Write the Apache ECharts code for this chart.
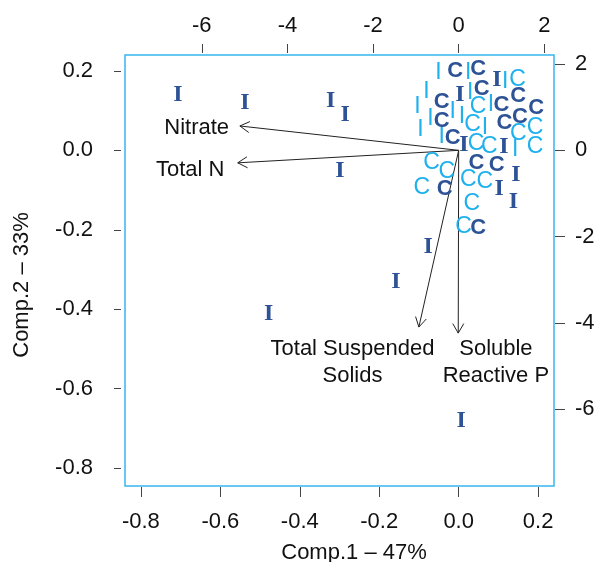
<!DOCTYPE html>
<html>
<head>
<meta charset="utf-8">
<script src="https://cdn.jsdelivr.net/npm/echarts@6/dist/echarts.min.js"></script>
<style>
  html, body { margin: 0; padding: 0; background: #fff; }
  #chart { width: 599px; height: 562px; }
</style>
</head>
<body>
<div id="chart"></div>
<script>
// Scores (Comp.1, Comp.2) by group
const darkI = [
  [-0.707, 0.140], [-0.538, 0.120], [-0.322, 0.125], [-0.286, 0.089], [-0.299, -0.052],
  [-0.077, -0.243], [-0.158, -0.331], [-0.478, -0.412], [0.006, -0.681],
  [0.096, 0.178], [0.003, 0.140], [0.013, 0.014], [0.114, 0.010], [0.144, -0.062],
  [0.102, -0.098], [0.138, -0.129]
];
const darkC = [
  [-0.009, 0.201], [0.049, 0.205], [0.058, 0.154], [0.108, 0.115], [0.150, 0.136],
  [0.195, 0.106], [-0.043, 0.123], [0.115, 0.069], [0.154, 0.085], [-0.043, 0.073],
  [-0.015, 0.031], [0.045, -0.032], [0.096, -0.037], [-0.035, -0.098], [0.049, -0.196]
];
const lightC = [
  [0.148, 0.179], [0.049, 0.110], [0.035, 0.064], [0.150, 0.043], [0.192, 0.058],
  [0.044, 0.016], [0.077, 0.010], [0.192, 0.010], [-0.068, -0.032], [-0.030, -0.053],
  [-0.093, -0.095], [0.024, -0.074], [0.066, -0.079], [0.033, -0.135], [0.012, -0.192]
];
const lightI = [
  [-0.051, 0.195], [0.024, 0.195], [0.117, 0.173], [-0.081, 0.148], [0.029, 0.144],
  [0.081, 0.115], [-0.104, 0.110], [-0.015, 0.098], [0.008, 0.085], [0.066, 0.058],
  [-0.096, 0.052], [-0.071, 0.081], [-0.043, 0.035], [0.142, 0.001]
];

// Loadings (top / right scale)
const loadingNames = ['Nitrate', 'Total N', 'Total Suspended\nSolids', 'Soluble\nReactive P'];
const loadings = [[-5.11, 0.565], [-5.16, -0.29], [-0.93, -4.10], [-0.01, -4.24]];
const loadingLabelPos = [[-6.12, 0.51], [-6.27, -0.46], [-2.48, -4.93], [0.87, -4.93]];

// Ticks
const scoreTicks = [-0.8, -0.6, -0.4, -0.2, 0.0, 0.2];
const loadTicks = [-6, -4, -2, 0, 2];

const darkBlue = '#2D5295';
const lightBlue = '#1FB1EE';
const boxBlue = '#35B7F0';
const sans = 'Liberation Sans, Arial, sans-serif';

const chart = echarts.init(document.getElementById('chart'));

// Serie de letras como marcadores
const letterSeries = (data, letter, color, font, size, weight) => ({
  type: 'custom',
  xAxisIndex: 0,
  yAxisIndex: 0,
  clip: false,
  data: data,
  renderItem: (params, api) => {
    const p = api.coord([api.value(0), api.value(1)]);
    return {
      type: 'text',
      x: p[0], y: p[1],
      style: {
        text: letter, fill: color, fontFamily: font, fontSize: size,
        fontWeight: weight, align: 'center', verticalAlign: 'middle'
      }
    };
  }
});

const tickStyle = { color: '#444', width: 1 };

const option = {
  backgroundColor: '#fff',
  animation: false,
  grid: {
    left: 125, right: 45, top: 55, bottom: 76,
    containLabel: false, outerBoundsMode: 'none',
    show: true, borderColor: boxBlue, borderWidth: 1.5, backgroundColor: 'transparent'
  },
  xAxis: [
    {
      type: 'value', position: 'bottom', min: -0.84, max: 0.24, offset: 1,
      axisLine: { show: false, onZero: false }, splitLine: { show: false },
      axisTick: { show: true, length: 10, customValues: scoreTicks, lineStyle: tickStyle },
      axisLabel: { customValues: scoreTicks, margin: 24, fontSize: 22, fontFamily: sans, color: '#111',
        formatter: v => v.toFixed(1) },
      name: 'Comp.1 \u2013 47%', nameLocation: 'middle', nameGap: 55,
      nameTextStyle: { fontSize: 22, fontFamily: sans, color: '#111', padding: [0, 0, 0, 29] }
    },
    {
      type: 'value', position: 'top', min: -0.84 * 9.278, max: 0.24 * 9.278, offset: 2,
      axisLine: { show: false, onZero: false }, splitLine: { show: false },
      axisTick: { show: true, length: 9, customValues: loadTicks, lineStyle: tickStyle },
      axisLabel: { customValues: loadTicks, margin: 16, fontSize: 22, fontFamily: sans, color: '#111',
        formatter: v => String(v) }
    }
  ],
  yAxis: [
    {
      type: 'value', position: 'left', min: -0.845, max: 0.24, offset: 4,
      axisLine: { show: false, onZero: false }, splitLine: { show: false },
      axisTick: { show: true, length: 7, customValues: scoreTicks, lineStyle: tickStyle },
      axisLabel: { customValues: scoreTicks, margin: 28, fontSize: 22, fontFamily: sans, color: '#111',
        formatter: v => v.toFixed(1) },
      name: 'Comp.2 \u2013 33%', nameLocation: 'middle', nameGap: 88, nameRotate: 90,
      nameTextStyle: { fontSize: 22, fontFamily: sans, color: '#111', padding: [0, 29, 0, 0] }
    },
    {
      type: 'value', position: 'right', min: -0.845 * 9.215, max: 0.24 * 9.215, offset: 1,
      axisLine: { show: false, onZero: false }, splitLine: { show: false },
      axisTick: { show: true, length: 10, customValues: loadTicks, lineStyle: tickStyle },
      axisLabel: { customValues: loadTicks, margin: 20, fontSize: 22, fontFamily: sans, color: '#111',
        formatter: v => String(v) }
    }
  ],
  series: [
    // Flechas de cargas
    {
      type: 'custom',
      xAxisIndex: 1,
      yAxisIndex: 1,
      clip: false,
      data: loadings,
      renderItem: (params, api) => {
        const o = api.coord([0, 0]);
        const t = api.coord([api.value(0), api.value(1)]);
        const ang = Math.atan2(t[1] - o[1], t[0] - o[0]);
        const L = 11, a = Math.PI / 6;
        const h1 = [t[0] - L * Math.cos(ang - a), t[1] - L * Math.sin(ang - a)];
        const h2 = [t[0] - L * Math.cos(ang + a), t[1] - L * Math.sin(ang + a)];
        return {
          type: 'group',
          children: [
            { type: 'line', shape: { x1: o[0], y1: o[1], x2: t[0], y2: t[1] },
              style: { stroke: '#222', lineWidth: 1 } },
            { type: 'polyline', shape: { points: [h1, t, h2] },
              style: { stroke: '#222', lineWidth: 1, fill: null } }
          ]
        };
      }
    },
    // Etiquetas de cargas
    {
      type: 'custom',
      xAxisIndex: 1,
      yAxisIndex: 1,
      clip: false,
      data: loadingLabelPos.map((p, i) => [p[0], p[1], i]),
      renderItem: (params, api) => {
        const p = api.coord([api.value(0), api.value(1)]);
        return {
          type: 'text',
          x: p[0], y: p[1],
          style: {
            text: loadingNames[api.value(2)], fill: '#111', fontFamily: sans, fontSize: 22,
            lineHeight: 27, align: 'center', verticalAlign: 'middle'
          }
        };
      }
    },
    letterSeries(lightI, 'I', lightBlue, sans, 23, 'normal'),
    letterSeries(lightC, 'C', lightBlue, sans, 23, 'normal'),
    letterSeries(darkC, 'C', darkBlue, sans, 22, 'bold'),
    letterSeries(darkI, 'I', darkBlue, 'Liberation Serif, Times New Roman, serif', 24, 'bold')
  ]
};

chart.setOption(option);
</script>
</body>
</html>
